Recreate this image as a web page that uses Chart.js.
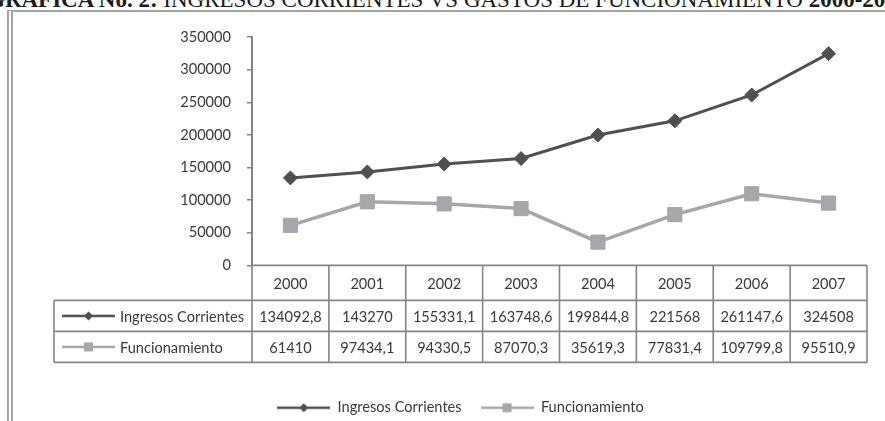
<!DOCTYPE html>
<html>
<head>
<meta charset="utf-8">
<script src="https://cdn.jsdelivr.net/npm/chart.js@4.4.1/dist/chart.umd.min.js"></script>
<style>
  html, body { margin: 0; padding: 0; background: #fff; overflow: hidden; }
  #wrap { position: relative; width: 885px; height: 421px; overflow: hidden; }
  #title { position: absolute; left: -13px; top: -12px; white-space: nowrap; font-family: "Liberation Serif"; font-size: 23px; line-height: 23px; color: #1a1a1a; }
  #frame { position: absolute; left: 7px; top: 10px; width: 900px; height: 430px; border-left: 6px double #a3a5a7; border-top: 2px solid #a3a5a7; }
  canvas { position: absolute; left: 0; top: 0; }
</style>
</head>
<body>
<div id="wrap">
  <div id="title"><b>GRÁFICA No. 2:</b> INGRESOS CORRIENTES VS GASTOS DE FUNCIONAMIENTO <b>2000-2007</b></div>
  <div id="frame"></div>
  <canvas id="chart" width="885" height="425"></canvas>
</div>
<script>
const years = ['2000', '2001', '2002', '2003', '2004', '2005', '2006', '2007'];
const ingresos = [134092.8, 143270, 155331.1, 163748.6, 199844.8, 221568, 261147.6, 324508];
const funcionamiento = [61410, 97434.1, 94330.5, 87070.3, 35619.3, 77831.4, 109799.8, 95510.9];
const seriesNames = ['Ingresos Corrientes', 'Funcionamiento'];

const darkColor = '#4e5153';
const lightColor = '#a5a7aa';
const gridColor = '#838587';
const textColor = '#3a3a3a';
const fontFamily = 'Lato';
const fontSize = 14.6;

// small line+marker key, like the excel legend swatch
function keyImage(color, shape, w, h, lineW, size) {
  const c = document.createElement('canvas');
  c.width = w; c.height = h;
  const g = c.getContext('2d');
  g.strokeStyle = color;
  g.lineWidth = lineW;
  g.beginPath(); g.moveTo(0, h / 2); g.lineTo(w, h / 2); g.stroke();
  g.fillStyle = color;
  g.beginPath();
  if (shape === 'diamond') {
    g.moveTo(w / 2, h / 2 - size); g.lineTo(w / 2 + size, h / 2);
    g.lineTo(w / 2, h / 2 + size); g.lineTo(w / 2 - size, h / 2); g.closePath();
  } else {
    g.rect(w / 2 - size, h / 2 - size, size * 2, size * 2);
  }
  g.fill();
  return c;
}
const keys = [
  keyImage(darkColor, 'diamond', 53, 12, 2.5, 4.5),
  keyImage(lightColor, 'square', 53, 12, 2.5, 4.5)
];

const fmt = v => String(v).replace('.', ',');

const dataTable = {
  id: 'dataTable',
  afterDraw(chart) {
    const { ctx, chartArea, scales: { x } } = chart;
    const top = chartArea.bottom;
    const rows = [35, 31, 31];
    const labelLeft = 54;
    const edges = years.map((_, i) => x.getPixelForValue(i - 0.5));
    edges.push(x.getPixelForValue(years.length - 0.5));
    const left = edges[0], right = edges[edges.length - 1];
    const y1 = top + rows[0], y2 = y1 + rows[1], y3 = y2 + rows[2];

    ctx.save();
    ctx.strokeStyle = gridColor;
    ctx.lineWidth = 1.6;
    ctx.beginPath();
    ctx.moveTo(left, top); ctx.lineTo(right, top);
    [y1, y2, y3].forEach(yy => { ctx.moveTo(labelLeft, yy); ctx.lineTo(right, yy); });
    edges.forEach(ex => { ctx.moveTo(ex, top); ctx.lineTo(ex, y3); });
    ctx.moveTo(labelLeft, y1); ctx.lineTo(labelLeft, y3);
    ctx.stroke();

    ctx.fillStyle = textColor;
    ctx.font = fontSize + 'px ' + fontFamily;
    ctx.textBaseline = 'middle';
    ctx.textAlign = 'center';
    years.forEach((yr, i) => {
      const cx = x.getPixelForValue(i);
      ctx.fillText(yr, cx, top + rows[0] / 2 + 1);
      ctx.fillText(fmt(ingresos[i]), cx, y1 + rows[1] / 2 + 1);
      ctx.fillText(fmt(funcionamiento[i]), cx, y2 + rows[2] / 2 + 1);
    });
    ctx.textAlign = 'left';
    [y1, y2].forEach((yy, r) => {
      const cy = yy + rows[r + 1] / 2;
      ctx.drawImage(keys[r], labelLeft + 8, cy - 6);
      ctx.fillText(seriesNames[r], labelLeft + 66, cy + 1);
    });
    ctx.restore();
  }
};

new Chart(document.getElementById('chart'), {
  type: 'line',
  data: {
    labels: years,
    datasets: [{
      label: seriesNames[0],
      data: ingresos,
      borderColor: darkColor,
      backgroundColor: darkColor,
      borderWidth: 3,
      pointStyle: 'rectRot',
      pointRadius: 7,
      pointBorderWidth: 1,
      pointBorderColor: darkColor,
      pointBackgroundColor: darkColor
    }, {
      label: seriesNames[1],
      data: funcionamiento,
      borderColor: lightColor,
      backgroundColor: lightColor,
      borderWidth: 3.5,
      pointStyle: 'rect',
      pointRadius: 10,
      pointBorderWidth: 1,
      pointBorderColor: lightColor,
      pointBackgroundColor: lightColor
    }]
  },
  options: {
    responsive: false,
    animation: false,
    layout: { padding: { top: 37, right: 18, left: 54, bottom: 0 } },
    plugins: {
      title: { display: false },
      tooltip: { enabled: false },
      legend: {
        position: 'bottom',
        labels: {
          usePointStyle: true,
          pointStyleWidth: 53,
          boxHeight: 12,
          padding: 19,
          color: textColor,
          font: { family: fontFamily, size: fontSize },
          generateLabels: chart => chart.data.datasets.map((ds, i) => ({
            text: ds.label,
            pointStyle: keys[i],
            fillStyle: ds.borderColor,
            strokeStyle: ds.borderColor,
            lineWidth: 0,
            fontColor: textColor,
            datasetIndex: i
          }))
        }
      }
    },
    scales: {
      x: {
        offset: true,
        grid: { display: false },
        border: { display: false },
        ticks: { display: false },
        afterFit: s => { s.height = 116; }
      },
      y: {
        min: 0,
        max: 350000,
        ticks: { stepSize: 50000, color: textColor, padding: 16, font: { family: fontFamily, size: fontSize }, callback: v => String(v) },
        grid: { drawOnChartArea: false, tickLength: 5, color: gridColor, lineWidth: 1.5 },
        border: { color: gridColor, width: 2 },
        afterFit: s => { s.width = 198; }
      }
    }
  },
  plugins: [dataTable]
});
</script>
</body>
</html>
